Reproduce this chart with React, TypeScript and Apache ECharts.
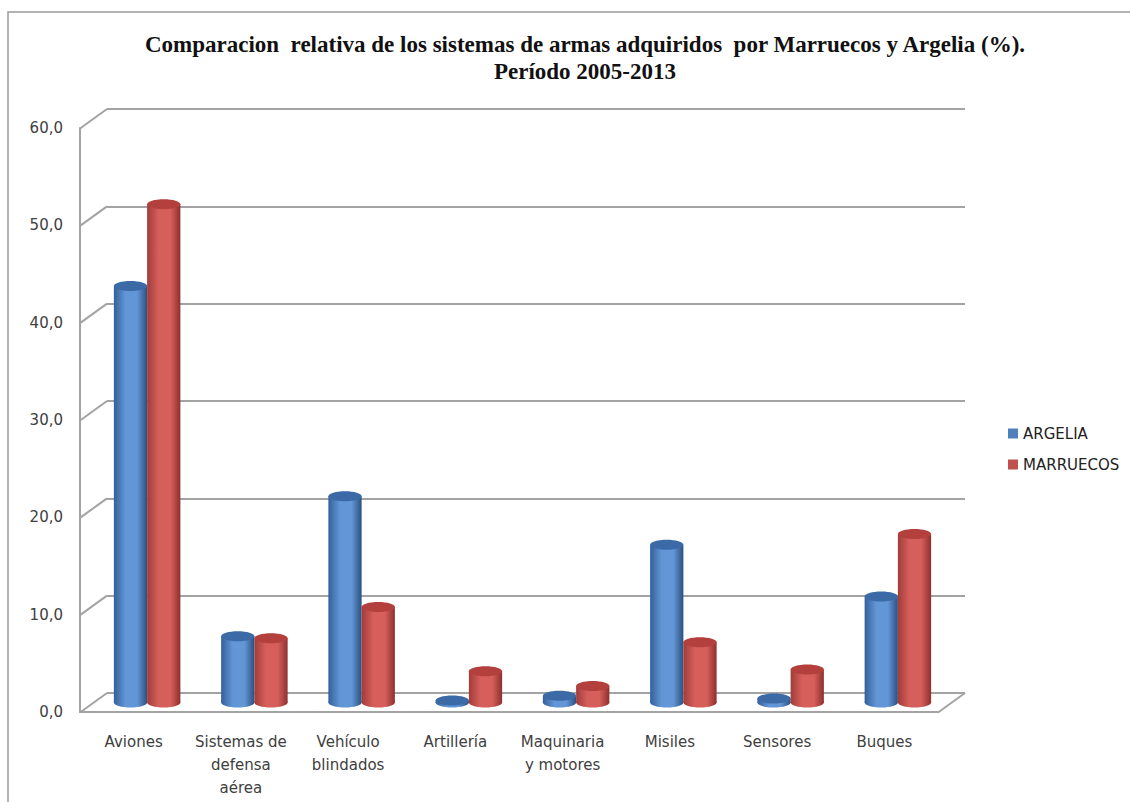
import React, { useEffect, useRef } from "react";
import * as echarts from "echarts";

const categories = [
  "Aviones",
  "Sistemas de\ndefensa\naérea",
  "Vehículo\nblindados",
  "Artillería",
  "Maquinaria\ny motores",
  "Misiles",
  "Sensores",
  "Buques",
];
const argelia = [42.8, 6.8, 21.2, 0.2, 0.7, 16.2, 0.4, 10.9];
const marruecos = [51.2, 6.6, 9.8, 3.2, 1.7, 6.2, 3.4, 17.3];
const yTicks = [0, 10, 20, 30, 40, 50, 60];
const seriesNames = ["ARGELIA", "MARRUECOS"];

const FONT = "'DejaVu Sans', sans-serif";
const GRID_LINE = "#a3a3a3";
const DEPTH_X = 27;
const DEPTH_Y = 19.5;

const palettes = [
  { legend: "#4f81bd", edgeL: "#34609a", mid: "#6296d6", edgeR: "#2c5080", top: "#3b6aa6" },
  { legend: "#c0504d", edgeL: "#a13c39", mid: "#d65f5b", edgeR: "#8e302e", top: "#b3403d" },
];

function cylinder(seriesIdx: number) {
  const pal = palettes[seriesIdx];
  const side = seriesIdx === 0 ? -0.5 : 0.5;
  return (params: any, api: any) => {
    const i = api.value(0);
    const v = api.value(1);
    const top = api.coord([i, v]);
    const base = api.coord([i, 0]);
    const band = api.size([1, 0])[0];
    const w = band * 0.31;
    const cx = top[0] + side * w;
    const ry = 5;
    const grad = new echarts.graphic.LinearGradient(0, 0, 1, 0, [
      { offset: 0, color: pal.edgeL },
      { offset: 0.35, color: pal.mid },
      { offset: 0.7, color: pal.mid },
      { offset: 1, color: pal.edgeR },
    ]);
    return {
      type: "group",
      children: [
        {
          type: "ellipse",
          shape: { cx, cy: base[1], rx: w / 2, ry },
          style: { fill: grad },
        },
        {
          type: "rect",
          shape: { x: cx - w / 2, y: top[1], width: w, height: Math.max(0, base[1] - top[1]) },
          style: { fill: grad },
        },
        {
          type: "ellipse",
          shape: { cx, cy: top[1], rx: w / 2, ry },
          style: { fill: pal.top },
        },
      ],
    };
  };
}

export default function App() {
  const ref = useRef<HTMLDivElement>(null);
  useEffect(() => {
    document.body.style.margin = "0";
    if (!ref.current) return;
    const chart = echarts.init(ref.current, undefined, { renderer: "svg" });
    const gridW = 858;
    const gridH = 584;
    const yAxisBase = { type: "value", min: 0, max: 60, interval: 10 };
    const titleFont = "'Liberation Serif', 'Times New Roman', serif";
    chart.setOption({
      animation: false,
      backgroundColor: "#ffffff",
      grid: [
        { left: 107, top: 109, width: gridW, height: gridH },
        { left: 93.5, top: 118.5, width: gridW, height: gridH },
        { left: 80, top: 128, width: gridW, height: gridH },
      ],
      xAxis: [0, 1, 2].map((g) => ({
        type: "category",
        data: categories,
        gridIndex: g,
        axisTick: { show: false },
        axisLine: { show: g === 2, lineStyle: { color: GRID_LINE, width: 2 } },
        axisLabel: {
          show: g === 2,
          interval: 0,
          margin: 18,
          color: "#404040",
          fontFamily: FONT,
          fontSize: 15,
          lineHeight: 23,
        },
        splitLine: { show: false },
      })),
      yAxis: [0, 1, 2].map((g) => ({
        ...yAxisBase,
        gridIndex: g,
        axisTick: { show: false },
        axisLine: { show: g === 2, lineStyle: { color: GRID_LINE, width: 2 } },
        axisLabel: {
          show: g === 2,
          margin: 17,
          color: "#404040",
          fontFamily: FONT,
          fontSize: 15,
          formatter: (val: number) => val.toFixed(1).replace(".", ","),
        },
        splitLine: { show: g === 0, lineStyle: { color: GRID_LINE, width: 2 } },
      })),
      legend: {
        orient: "vertical",
        left: 1003,
        top: 421,
        itemWidth: 10,
        itemHeight: 10,
        itemGap: 16,
        icon: "rect",
        data: seriesNames,
        textStyle: { fontFamily: FONT, fontSize: 15, color: "#222" },
      },
      graphic: [
        {
          type: "rect",
          silent: true,
          shape: { x: 8, y: 12, width: 1140, height: 820 },
          style: { fill: "none", stroke: "#9a9a9a", lineWidth: 1.5 },
        },
        {
          type: "text",
          x: 585,
          y: 44,
          style: {
            text: "Comparacion  relativa de los sistemas de armas adquiridos  por Marruecos y Argelia (%).",
            textAlign: "center",
            textVerticalAlign: "middle",
            fontFamily: titleFont,
            fontWeight: "bold",
            fontSize: 23,
            fill: "#111",
          },
        },
        {
          type: "text",
          x: 585,
          y: 71,
          style: {
            text: "Período 2005-2013",
            textAlign: "center",
            textVerticalAlign: "middle",
            fontFamily: titleFont,
            fontWeight: "bold",
            fontSize: 23,
            fill: "#111",
          },
        },
      ],
      series: [
        {
          type: "custom",
          name: "walls",
          silent: true,
          xAxisIndex: 0,
          yAxisIndex: 0,
          data: yTicks.map((t) => [0, t]),
          encode: { x: 0, y: 1 },
          z: 1,
          renderItem: (params: any, api: any) => {
            const v = api.value(1);
            const p = api.coord([0, v]);
            const band = api.size([1, 0])[0];
            const x0 = p[0] - band / 2;
            const children: any[] = [
              {
                type: "line",
                shape: { x1: x0, y1: p[1], x2: x0 - DEPTH_X, y2: p[1] + DEPTH_Y },
                style: { stroke: GRID_LINE, lineWidth: 2 },
              },
            ];
            if (v === 0) {
              const xr = api.coord([categories.length - 1, 0])[0] + band / 2;
              children.push({
                type: "line",
                shape: { x1: xr, y1: p[1], x2: xr - DEPTH_X, y2: p[1] + DEPTH_Y },
                style: { stroke: GRID_LINE, lineWidth: 2 },
              });
            }
            return { type: "group", children };
          },
        },
        ...[argelia, marruecos].map((vals, si) => ({
          type: "custom",
          name: seriesNames[si],
          xAxisIndex: 1,
          yAxisIndex: 1,
          itemStyle: { color: palettes[si].legend },
          data: vals.map((v, i) => [i, v]),
          encode: { x: 0, y: 1 },
          z: 3 + si,
          renderItem: cylinder(si),
        })),
      ],
    });
    return () => chart.dispose();
  }, []);
  return <div ref={ref} style={{ width: 1130, height: 802 }} />;
}
